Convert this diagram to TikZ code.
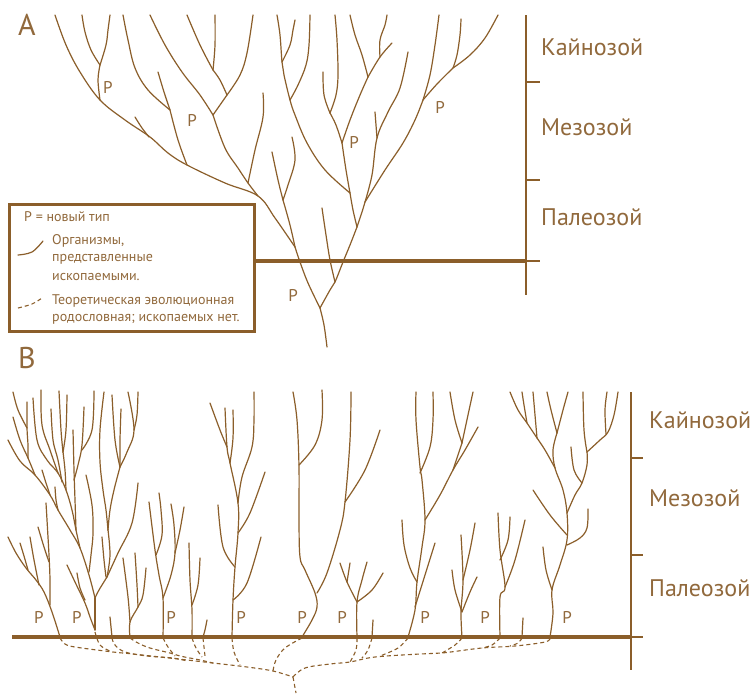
\documentclass[tikz,border=0pt]{standalone}
\usepackage{fontspec}
\setmainfont{PT Sans}
\definecolor{brn}{RGB}{139,94,42}
\definecolor{brt}{RGB}{145,105,60}
\newcommand\twig[1]{\draw[br] plot[smooth,tension=0.6] coordinates {#1};}
\newcommand\dtwig[1]{\draw[dbr] plot[smooth,tension=0.6] coordinates {#1};}
\begin{document}
\begin{tikzpicture}[x=1pt,y=-1pt,
  br/.style={draw=brn,line width=1.2pt,line cap=round,line join=round},
  dbr/.style={draw=brn,line width=1.1pt,dash pattern=on 4pt off 3pt},
  axisline/.style={draw=brn,line width=1.4pt},
  thickline/.style={draw=brn,line width=3.2pt},
  era/.style={text=brt,font=\fontsize{24}{28}\selectfont,anchor=west,inner sep=0pt},
  plab/.style={text=brt,font=\fontsize{17}{20}\selectfont,inner sep=0pt},
  big/.style={text=brt,font=\fontsize{30}{34}\selectfont,inner sep=0pt},
  legt/.style={text=brt,font=\fontsize{14}{16}\selectfont,anchor=west,inner sep=0pt}]
\useasboundingbox (0,0) rectangle (750,694);
\fill[white] (0,0) rectangle (750,694);

% ================= PANEL A =================
\node[big] (labA) at (27,25) {A};
\draw[axisline] (526,15) -- (526,295);
\foreach \yy in {82,180,261} \draw[axisline] (526,\yy) -- (540,\yy);
\node[era] (ka1) at (541,47) {Кайнозой};
\node[era] (me1) at (541,127) {Мезозой};
\node[era] (pa1) at (541,217) {Палеозой};
\draw[thickline] (256,261) -- (526,261);
% legend
\draw[brn,line width=3pt] (9,204) rectangle (254,331);
\node[legt] (lg1) at (24,217) {P = новый тип};
\node[legt] (lg2) at (52,241) {Организмы,};
\node[legt] (lg3) at (52,259) {представленные};
\node[legt] (lg4) at (52,277) {ископаемыми.};
\node[legt] (lg5) at (52,301) {Теоретическая эволюционная};
\node[legt] (lg6) at (52,319) {родословная; ископаемых нет.};
\twig{(18,255) (32,252) (43,241)}
\dtwig{(18,308) (32,304) (42,298)}

% tree A
\twig{(327,347) (324,325) (320,308)}
\twig{(320,308) (308,283) (300,262) (295,247)}
\twig{(295,247) (275,218) (258,196) (225,183) (187,165) (168,153) (150,137) (125,120) (100,100) (80,72) (66,45) (55,15)}
\twig{(100,100) (98,80) (100,65)}
\twig{(100,65) (91,50) (85,32) (82,15)}
\twig{(100,65) (106,45) (108,30) (110,15)}
\twig{(135,117) (142,128) (149,137)}
\twig{(187,165) (178,140) (170,110)}
\twig{(158,72) (164,92) (170,110)}
\twig{(170,110) (148,90) (135,68) (128,40) (123,15)}
\twig{(258,196) (248,183) (238,168) (225,148) (213,115)}
\twig{(213,115) (200,95) (182,72) (165,45) (150,15)}
\twig{(213,115) (227,95)}
\twig{(227,95) (220,80) (213,70)}
\twig{(213,70) (215,45) (215,15)}
\twig{(213,70) (200,45) (187,15)}
\twig{(227,95) (240,75) (247,53) (253,15)}
\twig{(248,183) (255,150) (263,117) (263,93)}
\twig{(272,152) (278,180) (283,200)}
\twig{(292,137) (295,160) (288,185) (283,200)}
\twig{(283,200) (290,225) (295,247)}
\twig{(320,308) (330,290) (335,282) (343,262) (350,245) (357,227)}
\twig{(322,208) (326,235) (330,260) (335,282)}
\twig{(357,227) (353,210) (350,193)}
\twig{(357,227) (362,212) (365,202)}
\twig{(350,193) (325,170) (307,143) (295,115) (290,100) (284,75) (282,62) (280,35) (277,15)}
\twig{(282,62) (290,45) (293,30) (295,20)}
\twig{(290,100) (298,85) (306,65) (309,45) (310,15)}
\twig{(350,193) (346,170) (342,143)}
\twig{(342,143) (336,125) (330,113)}
\twig{(330,113) (324,95) (323,72)}
\twig{(330,113) (336,95) (338,75) (337,40) (335,15)}
\twig{(342,143) (350,120) (360,95) (368,77)}
\twig{(368,77) (362,55) (355,35) (350,15)}
\twig{(368,77) (380,57) (392,43)}
\twig{(380,57) (380,40) (385,25) (387,15)}
\twig{(365,202) (372,175) (377,138) (388,112) (400,88) (408,52)}
\twig{(375,112) (376,125) (377,138)}
\twig{(365,202) (385,170) (403,143) (415,120) (423,100)}
\twig{(423,100) (430,75) (435,45) (439,15)}
\twig{(423,100) (437,84) (453,68)}
\twig{(453,68) (457,55) (460,35) (461,19)}
\twig{(453,68) (470,55) (485,38) (498,15)}
\node[plab] (pA1) at (108,87) {P};
\node[plab] (pA2) at (192,120) {P};
\node[plab] (pA3) at (354,142) {P};
\node[plab] (pA4) at (440,107) {P};
\node[plab] (pA5) at (293,295) {P};

% ================= PANEL B =================
\node[big] (labB) at (27,358) {B};
\draw[axisline] (631,392) -- (631,670);
\foreach \yy in {458,555,637} \draw[axisline] (631,\yy) -- (643,\yy);
\node[era] (ka2) at (649,420) {Кайнозой};
\node[era] (me2) at (649,498) {Мезозой};
\node[era] (pa2) at (649,588) {Палеозой};
\draw[thickline] (12,637) -- (631,637);

\twig{(60,637) (52,612) (44,592) (36,580) (26,568) (16,553) (8,537)}
\twig{(50,605) (50,580) (49,555) (46,503)}
\twig{(38,527) (44,547) (49,562)}
\twig{(30,537) (34,560) (39,585)}
\twig{(20,543) (24,556) (28,570)}
\twig{(95,630) (95,612) (95,598)}
\twig{(95,630) (90,617) (85,603) (75,582) (67,565)}
\twig{(77,573) (80,588) (85,600)}
\twig{(95,598) (89,575) (80,548) (70,530) (58,510) (50,495) (35,475) (20,461) (8,440)}
\twig{(13,417) (20,440) (28,458) (35,475)}
\twig{(13,392) (18,410) (27,428)}
\twig{(27,402) (27,428) (28,445) (28,458)}
\twig{(42,470) (46,483) (50,495)}
\twig{(55,487) (56,500) (58,510)}
\twig{(33,398) (37,440) (47,460) (58,473) (66,490) (72,510) (76,530) (80,548)}
\twig{(41,390) (42,425) (50,450) (58,473)}
\twig{(51,409) (53,440) (58,460) (62,482)}
\twig{(59,391) (61,430) (63,452)}
\twig{(67,395) (66,430) (63,452)}
\twig{(63,452) (65,470) (66,490)}
\twig{(73,430) (74,470) (75,500) (76,530)}
\twig{(84,407) (82,445) (78,465) (74,480)}
\twig{(94,391) (92,430) (82,450)}
\twig{(104,392) (100,430) (100,462) (103,490) (106,510) (108,530)}
\twig{(112,395) (115,440) (120,467)}
\twig{(121,409) (120,440) (120,467)}
\twig{(128,392) (134,430) (127,452) (120,467)}
\twig{(138,392) (137,415) (134,430)}
\twig{(120,467) (114,490) (110,510) (108,530)}
\twig{(108,530) (110,555) (107,577)}
\twig{(86,475) (92,505) (93,533) (91,555) (89,572)}
\twig{(138,483) (132,523) (118,553) (107,577)}
\twig{(102,537) (104,560) (106,577)}
\twig{(107,577) (99,590) (95,598)}
\twig{(112,637) (111,627) (110,617)}
\twig{(130,637) (130,622) (138,607) (143,595) (146,568)}
\twig{(138,607) (137,585) (135,553)}
\twig{(130,622) (128,597) (123,558)}
\twig{(163,637) (163,598) (159,575) (155,550) (149,502)}
\twig{(156,555) (162,535) (161,510) (159,493)}
\twig{(163,598) (171,575) (175,553) (174,525) (171,504)}
\twig{(175,553) (180,530) (184,507)}
\twig{(192,637) (192,610) (190,580) (189,543)}
\twig{(192,605) (198,585) (200,558)}
\twig{(207,620) (205,630) (203,637)}
\twig{(232,637) (233,600) (235,567) (238,533) (238,503) (230,463) (227,447) (225,408)}
\twig{(233,600) (247,583) (261,537)}
\twig{(235,567) (223,547) (218,505)}
\twig{(238,533) (250,513) (265,472)}
\twig{(238,503) (242,477) (252,447) (254,420) (254,392)}
\twig{(227,447) (220,430) (210,403)}
\twig{(230,463) (233,438) (233,410)}
\twig{(302,637) (312,620) (317,607) (315,593) (305,570) (300,557) (299,520) (299,467) (297,420) (293,392)}
\twig{(299,465) (315,445) (322,420) (322,390)}
\twig{(317,593) (327,573) (340,530) (345,502) (350,440) (351,392)}
\twig{(345,502) (365,470) (380,430)}
\twig{(357,637) (357,602) (362,580) (367,562)}
\twig{(357,602) (347,582) (340,563)}
\twig{(347,582) (350,563)}
\twig{(357,602) (372,590) (383,573)}
\twig{(373,620) (372,637)}
\twig{(408,637) (415,610) (417,582) (422,547) (425,520) (422,480) (420,467) (416,420) (416,392)}
\twig{(415,607) (425,575) (435,543)}
\twig{(417,582) (410,568) (404,545) (402,520)}
\twig{(420,473) (430,447) (433,420) (433,392)}
\twig{(425,520) (440,495) (453,470) (465,450) (478,427)}
\twig{(453,470) (462,443)}
\twig{(462,443) (455,420) (450,392)}
\twig{(462,443) (468,415) (473,392)}
\twig{(462,637) (461,612) (463,580) (461,535)}
\twig{(462,612) (455,590) (452,570)}
\twig{(463,580) (470,550) (475,523)}
\twig{(462,612) (470,592) (477,577)}
\twig{(500,637) (500,597) (505,587) (500,550) (498,513)}
\twig{(505,587) (515,560) (525,520)}
\twig{(500,560) (508,540) (510,517)}
\twig{(523,618) (522,637)}
\twig{(550,637) (553,613) (552,590) (560,565) (567,540) (567,513) (563,490) (555,468) (553,450) (557,433)}
\twig{(552,590) (546,570) (543,547)}
\twig{(567,545) (580,538) (587,528) (588,509)}
\twig{(567,535) (550,515) (533,490)}
\twig{(567,513) (575,495) (582,483) (587,465) (587,452)}
\twig{(582,483) (574,470) (571,447)}
\twig{(587,452) (600,440) (608,432) (614,415) (618,392)}
\twig{(587,452) (584,430) (583,392)}
\twig{(606,434) (605,410) (607,392)}
\twig{(557,433) (551,410) (547,392)}
\twig{(557,433) (563,410) (568,392)}
\twig{(555,468) (545,450) (537,438)}
\twig{(537,438) (527,423) (518,410) (510,392)}
\twig{(527,423) (524,405) (522,392)}
\twig{(537,438) (535,415) (533,392)}
\dtwig{(60,638) (65,644) (75,647) (113,652) (133,654) (187,660) (213,663) (247,667) (273,671) (293,677)}
\dtwig{(95,632) (100,645) (110,651)}
\dtwig{(112,638) (115,645) (125,652) (147,656) (173,658) (187,661)}
\dtwig{(130,638) (138,643) (150,648) (170,653) (180,656) (200,660) (213,663)}
\dtwig{(163,638) (168,647) (175,656)}
\dtwig{(192,638) (196,648) (202,657)}
\dtwig{(203,638) (204,647) (205,656)}
\dtwig{(232,638) (234,652) (240,665)}
\dtwig{(302,638) (285,648) (276,660) (273,671)}
\dtwig{(293,677) (296,693)}
\dtwig{(293,677) (305,668) (330,664) (350,662) (375,657) (420,654) (442,653) (482,648) (515,646) (545,642) (550,638)}
\dtwig{(357,638) (356,650) (350,662)}
\dtwig{(372,638) (368,650) (362,658)}
\dtwig{(408,638) (398,648) (380,656)}
\dtwig{(462,638) (455,645) (442,653)}
\dtwig{(500,638) (492,645) (482,648)}
\dtwig{(522,638) (518,643) (510,646)}
\node[plab] (pB1) at (39,617) {P};
\node[plab] (pB2) at (77,617) {P};
\node[plab] (pB3) at (171,617) {P};
\node[plab] (pB4) at (241,617) {P};
\node[plab] (pB5) at (302,617) {P};
\node[plab] (pB6) at (342,617) {P};
\node[plab] (pB7) at (425,617) {P};
\node[plab] (pB8) at (485,617) {P};
\node[plab] (pB9) at (567,617) {P};
\end{tikzpicture}
\end{document}
